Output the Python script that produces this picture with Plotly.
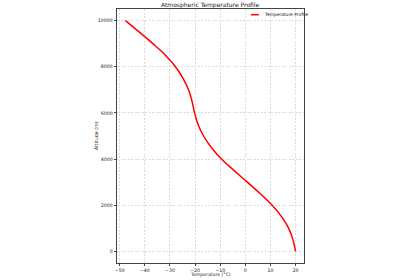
import plotly.graph_objects as go

altitude_m = [0, 500, 1000, 1500, 2000, 2500, 3000, 3500, 4000, 4500, 5000,
              5500, 6000, 6500, 7000, 7500, 8000, 8500, 9000, 9500, 10000]
temperature_c = [20.0, 19.0, 17.3, 14.5, 10.7, 6.0, 0.8, -4.4, -9.5, -13.5, -16.6,
                 -18.8, -20.2, -21.2, -22.6, -24.8, -27.8, -31.8, -36.8, -42.2, -47.7]

x_ticks = [-50, -40, -30, -20, -10, 0, 10, 20]
y_ticks = [0, 2000, 4000, 6000, 8000, 10000]

FONT = "DejaVu Sans"
TXT = "#222222"

# plot area in pixels (for paper-coordinate conversion of decorations)
L, R, T, B = 116.7, 304.3, 9.3, 262.7
W, H = 400, 280
def px(xp):
    return (xp - L) / (R - L)
def py(yp):
    return (B - yp) / (B - T)

fig = go.Figure()
fig.add_trace(go.Scatter(
    x=temperature_c, y=altitude_m, mode="lines", line_shape="spline",
    name="Temperature Profile", showlegend=False,
    line=dict(color="#ff0000", width=1.5),
))

axis_common = dict(
    showline=True, linecolor="#444444", linewidth=0.8, mirror=True,
    ticks="outside", ticklen=2.5, tickwidth=0.8, tickcolor="#444444",
    showgrid=True, gridcolor="#dcdcdc", gridwidth=0.5, griddash="2px,1.5px",
    zeroline=False, tickfont=dict(family=FONT, size=4.7, color=TXT),
)

fig.update_layout(
    width=W, height=H,
    margin=dict(l=L, r=W - R, t=T, b=H - B, autoexpand=False),
    paper_bgcolor="white", plot_bgcolor="white",
    font=dict(family=FONT, color=TXT),
    xaxis=dict(range=[-51.08, 23.38], tickvals=x_ticks,
               ticktext=[str(v).replace("-", "\u2212") for v in x_ticks],
               **axis_common),
    yaxis=dict(range=[-500, 10500], tickvals=y_ticks,
               ticktext=[str(v) for v in y_ticks],
               **axis_common),
    showlegend=False,
)

# title and axis titles
fig.add_annotation(text="Atmospheric Temperature Profile", xref="paper", yref="paper",
                   x=0.5, y=py(5), xanchor="center", yanchor="middle", showarrow=False,
                   font=dict(family=FONT, size=6, color=TXT))
fig.add_annotation(text="Temperature (°C)", xref="paper", yref="paper",
                   x=0.5, y=py(274.6), xanchor="center", yanchor="middle", showarrow=False,
                   font=dict(family=FONT, size=4.6, color=TXT))
fig.add_annotation(text="Altitude (m)", xref="paper", yref="paper",
                   x=px(95.7), y=0.5, xanchor="center", yanchor="middle", showarrow=False,
                   textangle=-90, font=dict(family=FONT, size=4.8, color=TXT))

# legend (line sample + label)
fig.add_shape(type="line", xref="paper", yref="paper",
              x0=px(251), x1=px(259), y0=py(15), y1=py(15),
              line=dict(color="#ff0000", width=1.5))
fig.add_annotation(text="Temperature Profile", xref="paper", yref="paper",
                   x=px(262.5), y=py(15), xanchor="left", yanchor="middle", showarrow=False,
                   font=dict(family=FONT, size=4.4, color=TXT))

fig.write_html("out.html")
